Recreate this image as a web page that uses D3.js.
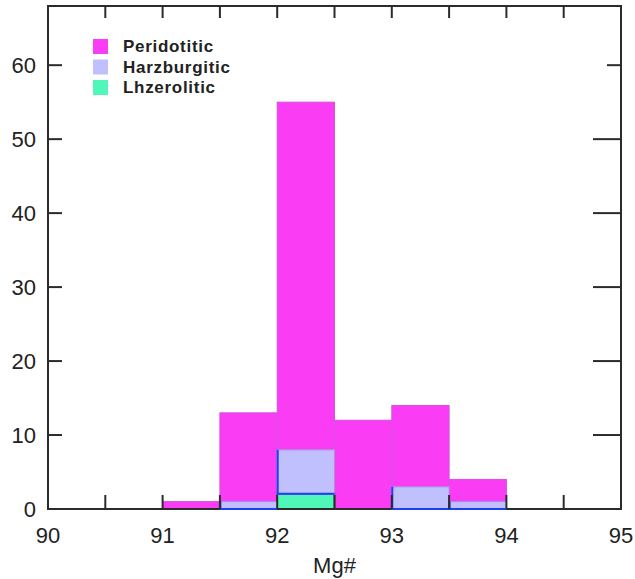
<!DOCTYPE html>
<html>
<head>
<meta charset="utf-8">
<script src="https://cdn.jsdelivr.net/npm/d3@7"></script>
<style>
  html, body { margin: 0; padding: 0; background: #fff; }
  svg { display: block; }
  text { font-family: "Liberation Sans", Arial, Helvetica, sans-serif; fill: #222; }
</style>
</head>
<body>
<svg id="chart" width="635" height="579"></svg>
<script>
// Histogram bins of Mg# (bin width 0.5)
const binStarts = [91.0, 91.5, 92.0, 92.5, 93.0, 93.5];
const binWidth = 0.5;
// Counts per bin
const peridotitic = [1, 13, 55, 12, 14, 4];      // total peridotitic
const harzburgitic = [0, 1, 6, 0, 3, 1];         // stacked above lherzolitic
const lhzerolitic = [0, 0, 2, 0, 0, 0];

const xTicks = [90, 91, 92, 93, 94, 95];
const xMinorTicks = [90.5, 91, 91.5, 92, 92.5, 93, 93.5, 94, 94.5];
const yTicks = [0, 10, 20, 30, 40, 50, 60];

const legendItems = [
  { name: "Peridotitic", fill: "#fb3cf5" },
  { name: "Harzburgitic", fill: "#bfc0fd" },
  { name: "Lhzerolitic", fill: "#4ff8b8" }
];

const svg = d3.select("#chart");
const L = 48, R = 621, T = 6, B = 509;

const x = d3.scaleLinear().domain([90, 95]).range([L, R]);
const y = d3.scaleLinear().domain([0, 68]).range([B, T]);

const bins = binStarts.map((s, i) => ({
  x0: s, x1: s + binWidth,
  per: peridotitic[i],
  lh: lhzerolitic[i],
  hz: harzburgitic[i]
}));

// Peridotitic bars (full height)
svg.append("g").selectAll("rect").data(bins.filter(d => d.per > 0)).join("rect")
  .attr("x", d => x(d.x0))
  .attr("y", d => y(d.per))
  .attr("width", d => x(d.x1) - x(d.x0))
  .attr("height", d => y(0) - y(d.per))
  .attr("fill", "#fb3cf5")
  .attr("stroke", "#d64fe0")
  .attr("stroke-width", 1);

// Lhzerolitic bars
const lhBins = bins.filter(d => d.lh > 0);
svg.append("g").selectAll("rect").data(lhBins).join("rect")
  .attr("x", d => x(d.x0))
  .attr("y", d => y(d.lh))
  .attr("width", d => x(d.x1) - x(d.x0))
  .attr("height", d => y(0) - y(d.lh))
  .attr("fill", "#4ff8b8")
  .attr("stroke", "#1d4a34")
  .attr("stroke-width", 1.5);

// Harzburgitic bars, stacked on the lhzerolitic ones
const hzBins = bins.filter(d => d.hz > 0);
svg.append("g").selectAll("rect").data(hzBins).join("rect")
  .attr("x", d => x(d.x0))
  .attr("y", d => y(d.lh + d.hz))
  .attr("width", d => x(d.x1) - x(d.x0))
  .attr("height", d => y(d.lh) - y(d.lh + d.hz))
  .attr("fill", "#bfc0fd")
  .attr("stroke", "#b08ae8")
  .attr("stroke-width", 1);

// Frame and ticks
const axisColor = "#2b2b2b";
const ax = svg.append("g").attr("stroke", axisColor).attr("stroke-width", 2).attr("fill", "none");
ax.append("rect").attr("x", L).attr("y", T).attr("width", R - L).attr("height", B - T);

// blue left and bottom edges of the harzburgitic bars
svg.append("g").selectAll("path").data(hzBins).join("path")
  .attr("d", d => `M${x(d.x0) + 0.5},${y(d.lh + d.hz)} L${x(d.x0) + 0.5},${y(d.lh) - (d.lh > 0 ? 0.5 : 0)} L${x(d.x1)},${y(d.lh) - (d.lh > 0 ? 0.5 : 0)}`)
  .attr("fill", "none")
  .attr("stroke", "#1f3ff2")
  .attr("stroke-width", 2);

const tk = svg.append("g").attr("stroke", axisColor).attr("stroke-width", 2).attr("fill", "none");
// bottom & top minor ticks (inward)
tk.selectAll("line.bt").data(xMinorTicks).join("line").attr("class", "bt")
  .attr("x1", d => x(d)).attr("x2", d => x(d))
  .attr("y1", B).attr("y2", B - 14);
tk.selectAll("line.tt").data(xMinorTicks).join("line").attr("class", "tt")
  .attr("x1", d => x(d)).attr("x2", d => x(d))
  .attr("y1", T).attr("y2", T + 12);

// left ticks (inward)
tk.selectAll("line.lt").data(yTicks.filter(v => v > 0)).join("line").attr("class", "lt")
  .attr("x1", L).attr("x2", L + 14)
  .attr("y1", d => y(d)).attr("y2", d => y(d));
// right ticks (inward)
tk.selectAll("line.rt").data(yTicks.filter(v => v > 0)).join("line").attr("class", "rt")
  .attr("x1", R).attr("x2", d => d === 60 ? R - 14 : R - 28)
  .attr("y1", d => y(d)).attr("y2", d => y(d));

// Tick labels
svg.append("g").selectAll("text").data(yTicks).join("text")
  .attr("x", L - 12)
  .attr("y", d => y(d) + 8)
  .attr("text-anchor", "end")
  .attr("font-size", 22)
  .text(d => d);

svg.append("g").selectAll("text").data(xTicks).join("text")
  .attr("x", d => x(d))
  .attr("y", 543)
  .attr("text-anchor", "middle")
  .attr("font-size", 22)
  .text(d => d);

// Axis title
svg.append("text")
  .attr("x", (L + R) / 2)
  .attr("y", 573)
  .attr("text-anchor", "middle")
  .attr("font-size", 22)
  .text("Mg#");

// Legend
const lg = svg.append("g");
legendItems.forEach((it, i) => {
  const yy = 39 + i * 20.5;
  lg.append("rect")
    .attr("x", 93).attr("y", yy)
    .attr("width", 15).attr("height", 15)
    .attr("fill", it.fill);
  lg.append("text")
    .attr("x", 123).attr("y", yy + 13)
    .attr("font-size", 17)
    .attr("font-weight", "bold")
    .attr("letter-spacing", 0.7)
    .text(it.name);
});
</script>
</body>
</html>
